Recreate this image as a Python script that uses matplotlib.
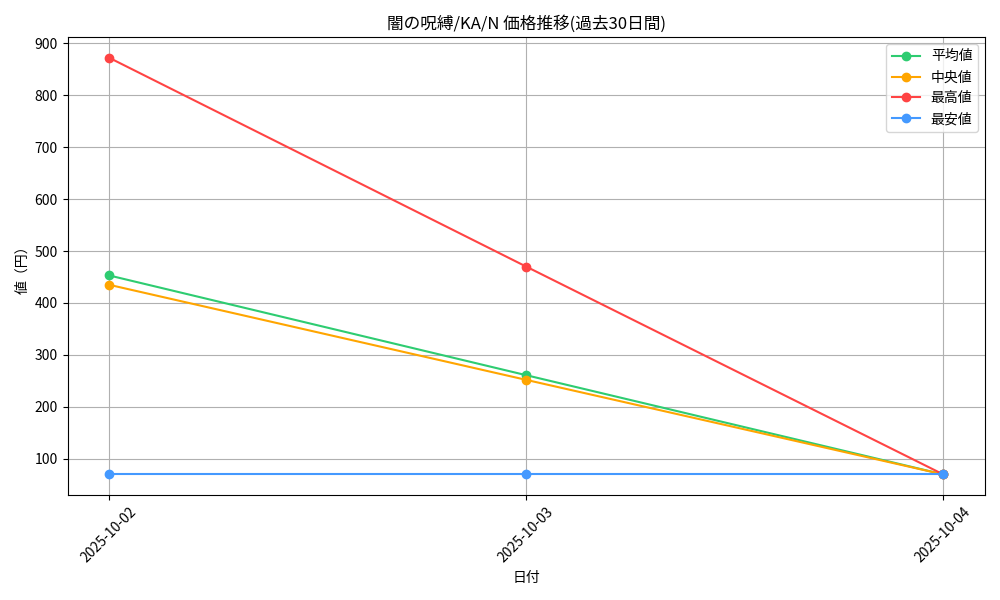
import matplotlib
matplotlib.use("Agg")
import matplotlib.pyplot as plt

plt.rcParams['font.family'] = ['Noto Sans CJK JP', 'DejaVu Sans']

dates = ["2025-10-02", "2025-10-03", "2025-10-04"]
avg_vals = [453, 261, 70]
median_vals = [435, 252, 70]
max_vals = [872, 470, 70]
min_vals = [70, 70, 70]

fig, ax = plt.subplots(figsize=(10, 6), dpi=100)
ax.plot(dates, avg_vals, marker='o', color='#2ecc71', label='平均値')
ax.plot(dates, median_vals, marker='o', color='#ffa500', label='中央値')
ax.plot(dates, max_vals, marker='o', color='#ff4444', label='最高値')
ax.plot(dates, min_vals, marker='o', color='#4499ff', label='最安値')

ax.set_title('闇の呪縛/KA/N 価格推移(過去30日間)')
ax.set_xlabel('日付')
ax.set_ylabel('値（円）')
ax.grid(True)
ax.legend(loc='upper right')
plt.xticks(rotation=45)
plt.tight_layout()
fig.savefig('out.png')
